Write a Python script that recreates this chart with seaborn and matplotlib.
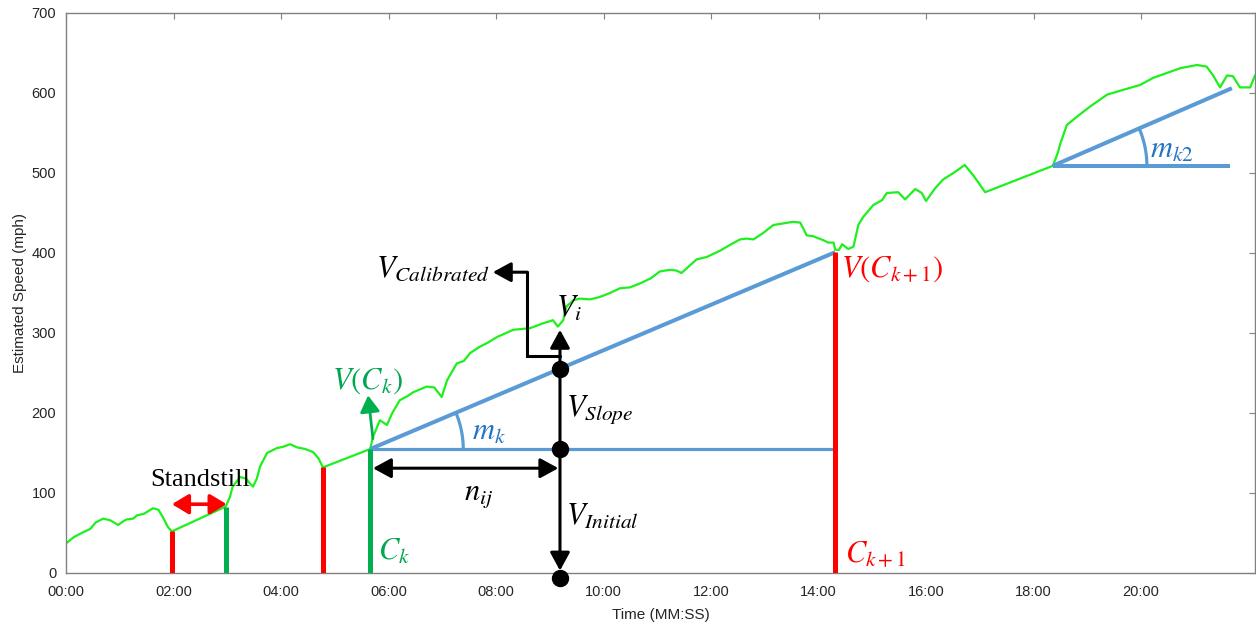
import numpy as np
import pandas as pd
import matplotlib
matplotlib.use("Agg")
import matplotlib.pyplot as plt
import seaborn as sns

# ---------------- data ----------------
time_min = [0, 0.15, 0.32, 0.45, 0.55, 0.69, 0.82, 0.97, 1.05, 1.13, 1.25, 1.32, 1.45, 1.62, 1.72, 1.8, 1.9, 1.97,
            2.97, 3.05, 3.1, 3.24, 3.35, 3.42, 3.48, 3.55, 3.61, 3.74, 3.92, 4.05, 4.17, 4.3, 4.45, 4.6, 4.7, 4.78,
            5.66, 5.71, 5.84, 5.97, 6.07, 6.21, 6.35, 6.46, 6.71, 6.85, 6.99, 7.09, 7.27, 7.4, 7.52, 7.7, 7.85,
            8.02, 8.32, 8.63, 8.87, 9.06, 9.15, 9.25, 9.31, 9.44, 9.56, 9.75, 9.93, 10.12, 10.31, 10.49, 10.68,
            10.87, 11.05, 11.24, 11.36, 11.45, 11.55, 11.73, 11.92, 12.17, 12.35, 12.54, 12.66, 12.79, 12.97,
            13.16, 13.35, 13.53, 13.66, 13.78, 13.9, 14.09, 14.18, 14.28, 14.31, 14.38, 14.44, 14.55, 14.65,
            14.74, 14.83, 15.02, 15.18, 15.27, 15.48, 15.61, 15.8, 15.92,
            16.0, 16.17, 16.32, 16.51, 16.72, 16.88, 17.1,
            18.36, 18.45, 18.5, 18.62, 18.8, 19.05, 19.37, 19.67, 19.98, 20.23, 20.48, 20.73, 21.04, 21.22, 21.34,
            21.47, 21.6, 21.71, 21.84, 22.03, 22.12]
speed_mph = [37, 45, 51, 55, 63, 68, 66, 60, 64, 67, 68, 72, 74, 81, 79, 70, 57, 52,
             83, 95, 108, 120, 118, 112, 108, 118, 133, 150, 156, 158, 161, 157, 155, 151, 143, 132,
             155, 170, 191, 185, 200, 216, 221, 226, 233, 232, 220, 241, 262, 265, 275, 283, 288,
             295, 304, 306, 312, 316, 308, 316, 333, 341, 343, 342, 345, 350, 356, 357, 362,
             368, 377, 379, 378, 375, 381, 392, 395, 403, 410, 417, 418, 417, 425,
             435, 437, 439, 438, 422, 421, 416, 413, 413, 404, 404, 411, 405, 408,
             435, 445, 460, 466, 475, 476, 467, 480, 475,
             465, 481, 492, 500, 510, 497, 476,
             509, 525, 537, 560, 570, 583, 598, 604, 610, 619, 625, 631, 635, 633, 622,
             607, 622, 621, 607, 607, 622]

# calibration points (minutes, mph)
red_bar_t = [1.97, 4.78, 14.31]
red_bar_v = [52, 132, 401]
green_bar_t = [2.97, 5.66]
green_bar_v = [83, 155]

ck_t, ck_v = 5.66, 155
ck1_t, ck1_v = 14.31, 401
k2_t0, k2_v0 = 18.36, 509
k2_t1, k2_v1 = 21.69, 606
k2_flat_end = 21.65
sample_t = 9.19

xtick_vals = [0, 2, 4, 6, 8, 10, 12, 14, 16, 18, 20]
xtick_labels = ["00:00", "02:00", "04:00", "06:00", "08:00", "10:00", "12:00", "14:00", "16:00", "18:00", "20:00"]
ytick_vals = [0, 100, 200, 300, 400, 500, 600, 700]

# ---------------- style ----------------
sns.set_theme(style="white")
plt.rcParams["font.family"] = ["Liberation Sans", "DejaVu Sans"]
plt.rcParams["mathtext.fontset"] = "stix"

GREEN_LINE = "#1EF01E"
BLUE = "#5B9BD5"
BLUE_TXT = "#2474C0"
RED = "#FF0000"
GREEN = "#00B050"
GREEN_TXT = "#00A651"

fig = plt.figure(figsize=(12.56, 6.28), dpi=100)
ax = fig.add_axes([66 / 1256, 55 / 628, (1255 - 66) / 1256, (573 - 13) / 628])

df = pd.DataFrame({"t": time_min, "v": speed_mph})
sns.lineplot(data=df, x="t", y="v", ax=ax, color=GREEN_LINE, linewidth=1.6, sort=False, zorder=2)

# bars
ax.vlines(red_bar_t, 0, red_bar_v, colors=RED, linewidth=3.6, zorder=4)
ax.vlines(green_bar_t, 0, green_bar_v, colors=GREEN, linewidth=3.6, zorder=4)

# blue construction lines
ax.plot([ck_t, ck1_t], [ck_v, ck1_v], color=BLUE, linewidth=2.9, solid_capstyle="butt", zorder=3)
ax.plot([ck_t, ck1_t], [ck_v, ck_v], color=BLUE, linewidth=2.3, solid_capstyle="butt", zorder=3)
ax.plot([k2_t0, k2_t1], [k2_v0, k2_v1], color=BLUE, linewidth=2.9, solid_capstyle="butt", zorder=3)
ax.plot([k2_t0, k2_flat_end], [k2_v0, k2_v0], color=BLUE, linewidth=2.9, solid_capstyle="butt", zorder=3)

ax.set_xlim(0, 22.12)
ax.set_ylim(0, 700)
ax.set_xticks(xtick_vals)
ax.set_xticklabels(xtick_labels)
ax.set_yticks(ytick_vals)
fig.canvas.draw()


def draw_arc(t0, v0, t1, v1, radius_px):
    p0 = ax.transData.transform((t0, v0))
    p1 = ax.transData.transform((t1, v1))
    ang = np.arctan2(p1[1] - p0[1], p1[0] - p0[0])
    th = np.linspace(0, ang, 40)
    pts = np.column_stack([p0[0] + radius_px * np.cos(th), p0[1] + radius_px * np.sin(th)])
    dpts = ax.transData.inverted().transform(pts)
    ax.plot(dpts[:, 0], dpts[:, 1], color=BLUE, linewidth=2.3, zorder=3)


draw_arc(ck_t, ck_v, ck1_t, ck1_v, 93)
draw_arc(k2_t0, k2_v0, k2_t1, k2_v1, 94)

slope_v = ck_v + (sample_t - ck_t) * (ck1_v - ck_v) / (ck1_t - ck_t)

blk = dict(arrowstyle="<|-|>,head_length=0.55,head_width=0.3", color="black", lw=2.2,
           shrinkA=0, shrinkB=0, mutation_scale=20)
# vertical double arrow
ax.annotate("", xy=(sample_t, 304), xytext=(sample_t, 3), arrowprops=blk, zorder=5)
# n_ij horizontal double arrow
ax.annotate("", xy=(sample_t - 0.03, 131), xytext=(ck_t + 0.05, 131), arrowprops=blk, zorder=5)
# elbow arrow to V_Calibrated
ax.plot([sample_t, 8.58, 8.58], [271, 271, 376], color="black", linewidth=2.2, zorder=5,
        solid_joinstyle="miter")
ax.annotate("", xy=(7.94, 376), xytext=(8.58, 376),
            arrowprops=dict(arrowstyle="-|>,head_length=0.55,head_width=0.3", color="black", lw=2.2,
                            shrinkA=0, shrinkB=0, mutation_scale=20), zorder=5)
# dots
ax.plot([sample_t, sample_t, sample_t], [-6, ck_v, slope_v], "o", color="black", markersize=11.5,
        clip_on=False, zorder=6)

# standstill arrow
ax.annotate("", xy=(2.99, 86), xytext=(1.97, 86),
            arrowprops=dict(arrowstyle="<|-|>,head_length=0.5,head_width=0.3", color=RED, lw=2.6,
                            shrinkA=0, shrinkB=0, mutation_scale=20), zorder=5)
# V(C_k) green arrow
ax.annotate("", xy=(5.62, 222), xytext=(5.71, 168),
            arrowprops=dict(arrowstyle="-|>,head_length=0.5,head_width=0.3", color=GREEN, lw=2,
                            shrinkA=0, shrinkB=0, mutation_scale=20), zorder=5)

# texts
FS = 22
ax.text(1.57, 116, "Standstill", fontsize=19, family=["Liberation Serif", "DejaVu Serif"],
        color="black", va="center", ha="left")
ax.text(7.88, 380, r"$V_{Calibrated}$", fontsize=FS, color="black", va="center", ha="right")
ax.text(9.12, 330, r"$V_i$", fontsize=FS, color="black", va="center", ha="left")
ax.text(9.3, 205, r"$V_{Slope}$", fontsize=FS, color="black", va="center", ha="left")
ax.text(9.3, 70, r"$V_{Initial}$", fontsize=FS, color="black", va="center", ha="left")
ax.text(7.4, 98, r"$n_{ij}$", fontsize=FS, color="black", va="center", ha="left")
ax.text(7.55, 177, r"$m_k$", fontsize=FS, color=BLUE_TXT, va="center", ha="left")
ax.text(20.17, 529, r"$m_{k2}$", fontsize=FS, color=BLUE_TXT, va="center", ha="left")
ax.text(4.95, 240, r"$V(C_k)$", fontsize=FS, color=GREEN_TXT, va="center", ha="left")
ax.text(5.8, 26, r"$C_k$", fontsize=FS, color=GREEN_TXT, va="center", ha="left")
ax.text(14.42, 380, r"$V(C_{k+1})$", fontsize=FS, color=RED, va="center", ha="left")
ax.text(14.5, 23, r"$C_{k+1}$", fontsize=FS, color=RED, va="center", ha="left")

# axes styling
for s in ax.spines.values():
    s.set_color("#808080")
    s.set_linewidth(1.0)
    s.set_visible(True)
ax.tick_params(direction="in", length=4, width=0.8, color="#808080", top=True, right=True,
               labelsize=10.5, labelcolor="#262626")
ax.tick_params(axis="x", pad=9)
ax.tick_params(axis="y", pad=7)
ax.set_xlabel("Time (MM:SS)", fontsize=11, color="#262626", labelpad=6)
ax.set_ylabel("Estimated Speed (mph)", fontsize=11, color="#262626", labelpad=3)
ax.grid(False)
ax.set_facecolor("white")

fig.savefig("out.png", dpi=100, facecolor="white")
